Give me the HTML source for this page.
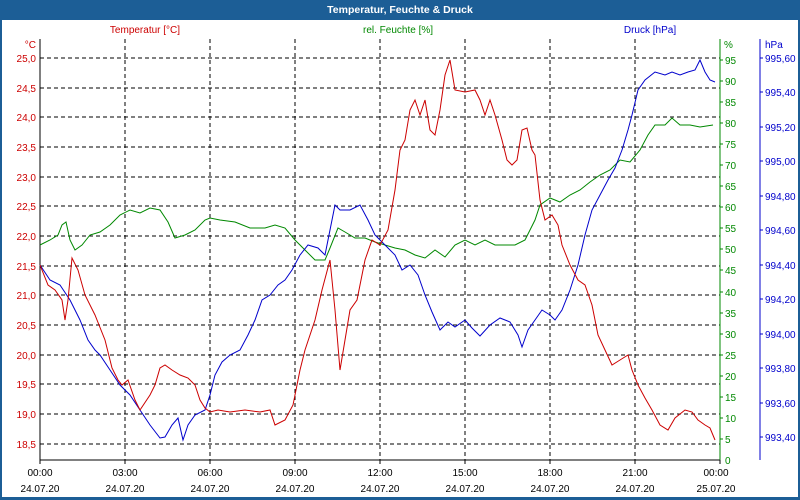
<!DOCTYPE html>
<html><head><meta charset="utf-8"><style>
body{margin:0;width:800px;height:500px;overflow:hidden;background:#fff}
svg{display:block;font-family:"Liberation Sans","DejaVu Sans",sans-serif;font-size:10px}
</style></head><body>
<svg width="800" height="500" viewBox="0 0 800 500" xmlns="http://www.w3.org/2000/svg">
<rect x="0" y="0" width="800" height="500" fill="#1c5e96"/>
<rect x="2" y="20" width="796" height="477" fill="#fff"/>
<text x="400" y="13" text-anchor="middle" fill="#fff" font-weight="bold" font-size="10.5">Temperatur, Feuchte &amp; Druck</text>
<g stroke="#000" stroke-dasharray="4,3" stroke-width="1">
<line x1="125" y1="39" x2="125" y2="460"/><line x1="210" y1="39" x2="210" y2="460"/><line x1="295" y1="39" x2="295" y2="460"/><line x1="380" y1="39" x2="380" y2="460"/><line x1="465" y1="39" x2="465" y2="460"/><line x1="550" y1="39" x2="550" y2="460"/><line x1="635" y1="39" x2="635" y2="460"/>
<line x1="40" y1="58" x2="720" y2="58"/><line x1="40" y1="88" x2="720" y2="88"/><line x1="40" y1="117" x2="720" y2="117"/><line x1="40" y1="147" x2="720" y2="147"/><line x1="40" y1="177" x2="720" y2="177"/><line x1="40" y1="206" x2="720" y2="206"/><line x1="40" y1="236" x2="720" y2="236"/><line x1="40" y1="266" x2="720" y2="266"/><line x1="40" y1="295" x2="720" y2="295"/><line x1="40" y1="325" x2="720" y2="325"/><line x1="40" y1="355" x2="720" y2="355"/><line x1="40" y1="384" x2="720" y2="384"/><line x1="40" y1="414" x2="720" y2="414"/><line x1="40" y1="444" x2="720" y2="444"/>
</g>
<line x1="40" y1="39" x2="40" y2="460" stroke="#000"/>
<line x1="40" y1="460" x2="720" y2="460" stroke="#000"/>
<line x1="720" y1="39" x2="720" y2="460" stroke="#080"/>
<line x1="760" y1="39" x2="760" y2="460" stroke="#00c"/>
<g fill="#c00" text-anchor="end">
<text x="36" y="48">°C</text>
<text x="36" y="62">25,0</text><text x="36" y="92">24,5</text><text x="36" y="121">24,0</text><text x="36" y="151">23,5</text><text x="36" y="181">23,0</text><text x="36" y="210">22,5</text><text x="36" y="240">22,0</text><text x="36" y="270">21,5</text><text x="36" y="299">21,0</text><text x="36" y="329">20,5</text><text x="36" y="359">20,0</text><text x="36" y="388">19,5</text><text x="36" y="418">19,0</text><text x="36" y="448">18,5</text>
</g>
<text x="145" y="33" fill="#c00" text-anchor="middle">Temperatur [°C]</text>
<text x="398" y="33" fill="#080" text-anchor="middle">rel. Feuchte [%]</text>
<text x="650" y="33" fill="#00c" text-anchor="middle">Druck [hPa]</text>
<g fill="#080">
<text x="724" y="48">%</text>
<text x="725" y="64">95</text><text x="725" y="85">90</text><text x="725" y="106">85</text><text x="725" y="127">80</text><text x="725" y="148">75</text><text x="725" y="169">70</text><text x="725" y="190">65</text><text x="725" y="211">60</text><text x="725" y="232">55</text><text x="725" y="253">50</text><text x="725" y="274">45</text><text x="725" y="296">40</text><text x="725" y="317">35</text><text x="725" y="338">30</text><text x="725" y="359">25</text><text x="725" y="380">20</text><text x="725" y="401">15</text><text x="725" y="422">10</text><text x="725" y="443">5</text><text x="725" y="464">0</text>
</g>
<g stroke="#080"><line x1="720" y1="60" x2="723" y2="60"/><line x1="720" y1="81" x2="723" y2="81"/><line x1="720" y1="102" x2="723" y2="102"/><line x1="720" y1="123" x2="723" y2="123"/><line x1="720" y1="144" x2="723" y2="144"/><line x1="720" y1="165" x2="723" y2="165"/><line x1="720" y1="186" x2="723" y2="186"/><line x1="720" y1="207" x2="723" y2="207"/><line x1="720" y1="228" x2="723" y2="228"/><line x1="720" y1="249" x2="723" y2="249"/><line x1="720" y1="270" x2="723" y2="270"/><line x1="720" y1="292" x2="723" y2="292"/><line x1="720" y1="313" x2="723" y2="313"/><line x1="720" y1="334" x2="723" y2="334"/><line x1="720" y1="355" x2="723" y2="355"/><line x1="720" y1="376" x2="723" y2="376"/><line x1="720" y1="397" x2="723" y2="397"/><line x1="720" y1="418" x2="723" y2="418"/><line x1="720" y1="439" x2="723" y2="439"/></g>
<g fill="#00c">
<text x="765" y="48">hPa</text>
<text x="765" y="62">995,60</text><text x="765" y="96">995,40</text><text x="765" y="131">995,20</text><text x="765" y="165">995,00</text><text x="765" y="200">994,80</text><text x="765" y="234">994,60</text><text x="765" y="269">994,40</text><text x="765" y="303">994,20</text><text x="765" y="338">994,00</text><text x="765" y="372">993,80</text><text x="765" y="407">993,60</text><text x="765" y="441">993,40</text>
</g>
<g stroke="#00c"><line x1="760" y1="58" x2="763" y2="58"/><line x1="760" y1="92" x2="763" y2="92"/><line x1="760" y1="127" x2="763" y2="127"/><line x1="760" y1="161" x2="763" y2="161"/><line x1="760" y1="196" x2="763" y2="196"/><line x1="760" y1="230" x2="763" y2="230"/><line x1="760" y1="265" x2="763" y2="265"/><line x1="760" y1="299" x2="763" y2="299"/><line x1="760" y1="334" x2="763" y2="334"/><line x1="760" y1="368" x2="763" y2="368"/><line x1="760" y1="403" x2="763" y2="403"/><line x1="760" y1="437" x2="763" y2="437"/></g>
<g stroke="#000"><line x1="40" y1="460" x2="40" y2="464"/><line x1="125" y1="460" x2="125" y2="464"/><line x1="210" y1="460" x2="210" y2="464"/><line x1="295" y1="460" x2="295" y2="464"/><line x1="380" y1="460" x2="380" y2="464"/><line x1="465" y1="460" x2="465" y2="464"/><line x1="550" y1="460" x2="550" y2="464"/><line x1="635" y1="460" x2="635" y2="464"/><line x1="720" y1="460" x2="720" y2="464"/></g>
<g fill="#000" text-anchor="middle">
<text x="40" y="476">00:00</text><text x="40" y="492">24.07.20</text>
<text x="125" y="476">03:00</text><text x="125" y="492">24.07.20</text>
<text x="210" y="476">06:00</text><text x="210" y="492">24.07.20</text>
<text x="295" y="476">09:00</text><text x="295" y="492">24.07.20</text>
<text x="380" y="476">12:00</text><text x="380" y="492">24.07.20</text>
<text x="465" y="476">15:00</text><text x="465" y="492">24.07.20</text>
<text x="550" y="476">18:00</text><text x="550" y="492">24.07.20</text>
<text x="635" y="476">21:00</text><text x="635" y="492">24.07.20</text>
<text x="716" y="476">00:00</text><text x="716" y="492">25.07.20</text>
</g>
<polyline fill="none" stroke="#080" stroke-width="1" points="40,245 50,240 58,235 62,225 66,222 70,240 75,250 82,245 90,235 100,232 110,225 120,215 130,210 140,213 150,208 160,210 168,222 175,238 185,235 195,230 205,220 210,218 220,220 235,222 250,228 265,228 275,225 285,228 295,240 305,250 315,260 325,260 330,248 338,228 345,232 355,238 365,238 375,242 385,245 395,248 405,250 415,255 425,258 435,250 445,257 455,245 465,240 475,245 485,240 495,245 505,245 515,245 525,240 535,220 540,205 550,198 560,202 570,195 580,190 590,182 600,175 610,170 620,160 630,162 640,150 648,135 655,125 665,125 672,118 680,125 690,125 700,127 713,125"/>
<polyline fill="none" stroke="#00c" stroke-width="1" points="40,265 50,280 60,285 70,300 80,320 88,340 95,350 100,355 110,370 120,385 130,395 140,410 150,425 160,438 165,437 172,425 178,418 183,440 188,425 195,415 205,410 210,395 215,375 222,362 230,355 240,350 248,335 255,320 262,300 270,295 278,285 285,280 292,270 300,255 308,245 318,248 325,255 330,230 335,205 340,210 350,210 360,205 368,220 375,235 385,245 395,255 402,270 410,265 418,275 425,295 432,312 440,330 448,322 455,327 465,320 472,328 480,336 490,325 500,318 510,322 518,335 522,347 528,330 535,320 542,310 550,315 555,320 562,310 570,290 578,265 585,235 592,210 600,195 608,180 615,168 622,150 628,130 632,115 638,90 645,80 655,72 665,75 672,72 680,75 688,72 695,70 700,60 705,72 710,80 715,82"/>
<polyline fill="none" stroke="#c00" stroke-width="1" points="40,265 48,285 55,290 62,300 65,320 68,300 72,258 78,270 85,295 95,315 105,340 112,368 118,380 122,385 128,380 135,400 140,410 150,395 155,385 160,368 165,365 172,370 180,375 188,378 195,385 200,400 205,408 210,412 218,410 230,412 245,410 260,412 270,410 275,425 285,420 293,405 300,370 305,350 315,320 322,290 330,260 335,310 340,370 345,340 350,310 357,300 365,260 372,240 380,245 388,230 395,190 400,150 405,140 410,110 415,100 420,115 425,100 430,130 435,135 440,110 445,75 450,60 455,90 465,92 475,90 480,100 485,115 490,100 495,115 502,140 507,160 512,165 517,160 522,130 527,128 532,150 535,155 540,200 545,220 552,215 558,225 562,245 570,265 578,280 585,285 592,305 598,335 605,350 612,365 620,360 628,355 632,370 638,385 645,398 652,410 660,425 668,430 675,418 685,410 692,412 698,420 705,425 710,428 715,440"/>
</svg>
</body></html>
